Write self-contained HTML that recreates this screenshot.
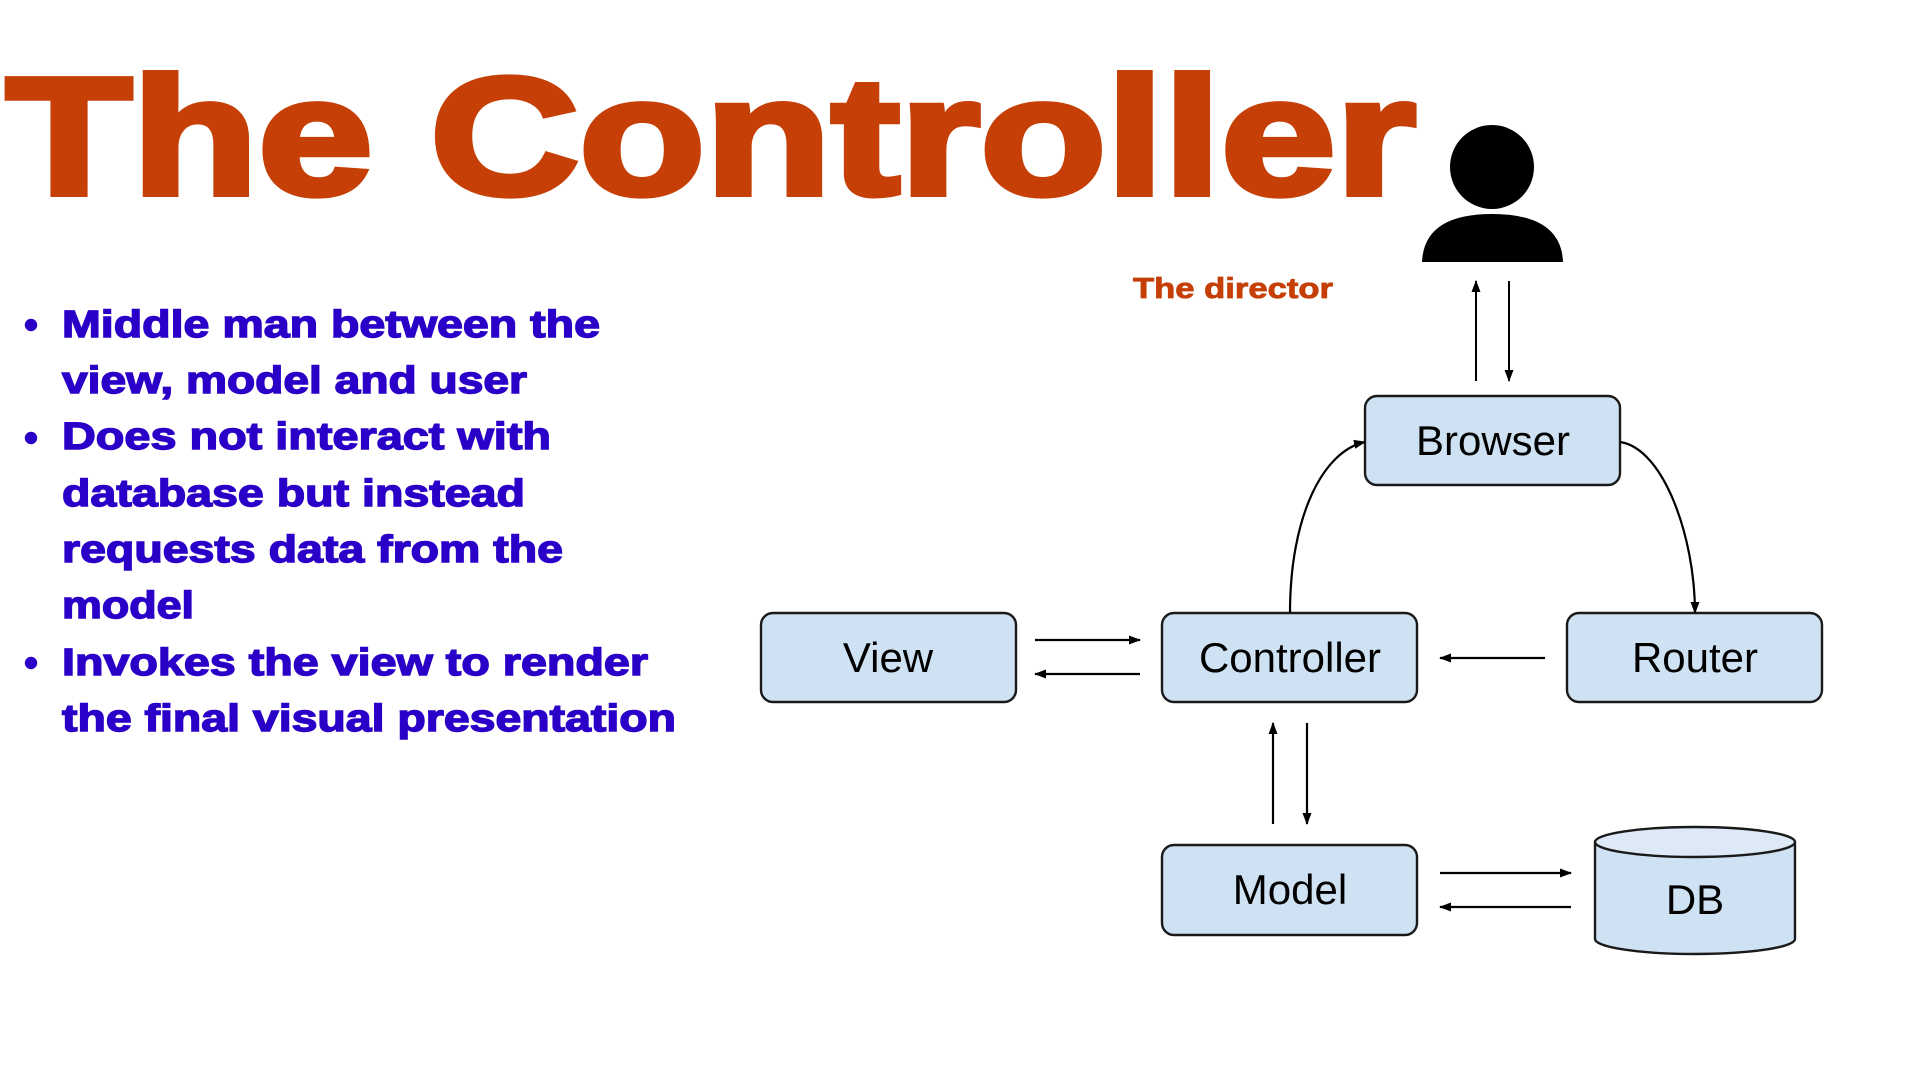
<!DOCTYPE html>
<html><head><meta charset="utf-8"><style>html,body{margin:0;padding:0;background:#fff;width:1920px;height:1080px;overflow:hidden}</style></head>
<body>
<svg width="1920" height="1080" viewBox="0 0 1920 1080" xmlns="http://www.w3.org/2000/svg">
<defs>
<marker id="a" markerWidth="12" markerHeight="12" refX="11" refY="6" orient="auto" markerUnits="userSpaceOnUse"><path d="M0,1.5 L12,6 L0,10.5 z" fill="#000"/></marker>
</defs>
<text x="6" y="194" font-family="Liberation Sans, sans-serif" font-weight="bold" font-size="167" fill="#c53f06" stroke="#c53f06" stroke-width="6" textLength="1410" lengthAdjust="spacingAndGlyphs">The Controller</text>
<circle cx="1492" cy="167" r="42" fill="#000"/>
<path d="M1422,262 Q1424,214 1492,214 Q1561,214 1563,262 Z" fill="#000"/>
<text x="1133" y="298" font-family="Liberation Sans, sans-serif" font-weight="bold" font-size="29" fill="#c53f06" stroke="#c53f06" stroke-width="0.8" textLength="200" lengthAdjust="spacingAndGlyphs">The director</text>
<g font-family="Liberation Sans, sans-serif" font-weight="bold" font-size="38" fill="#2a00c8" stroke="#2a00c8" stroke-width="1.4">
<circle cx="31" cy="325" r="5.5"/><circle cx="31" cy="438" r="5.5"/><circle cx="31" cy="663" r="5.5"/>
<text x="62" y="337" textLength="538" lengthAdjust="spacingAndGlyphs">Middle man between the</text>
<text x="62" y="393" textLength="465" lengthAdjust="spacingAndGlyphs">view, model and user</text>
<text x="62" y="449" textLength="489" lengthAdjust="spacingAndGlyphs">Does not interact with</text>
<text x="62" y="506" textLength="463" lengthAdjust="spacingAndGlyphs">database but instead</text>
<text x="62" y="562" textLength="501" lengthAdjust="spacingAndGlyphs">requests data from the</text>
<text x="62" y="618" textLength="132" lengthAdjust="spacingAndGlyphs">model</text>
<text x="62" y="675" textLength="586" lengthAdjust="spacingAndGlyphs">Invokes the view to render</text>
<text x="62" y="731" textLength="614" lengthAdjust="spacingAndGlyphs">the final visual presentation</text>
</g>
<g stroke="#000" stroke-width="2" fill="none" marker-end="url(#a)">
<line x1="1476" y1="381" x2="1476" y2="281"/>
<line x1="1509" y1="281" x2="1509" y2="381"/>
</g>
<g transform="translate(-7,-4)">
<g fill="#cfe2f3" stroke="#1a1a1a" stroke-width="2.4">
<rect x="1372" y="400" width="255" height="89" rx="12"/>
<rect x="768" y="617" width="255" height="89" rx="12"/>
<rect x="1169" y="617" width="255" height="89" rx="12"/>
<rect x="1574" y="617" width="255" height="89" rx="12"/>
<rect x="1169" y="849" width="255" height="90" rx="12"/>
<path d="M1602,846 L1602,943 A100,15 0 0 0 1802,943 L1802,846"/>
<ellipse cx="1702" cy="846" rx="100" ry="15" fill="#dde9f6"/>
</g>
<g font-family="Liberation Sans, sans-serif" font-size="42" fill="#000" text-anchor="middle">
<text x="1500" y="459">Browser</text>
<text x="895" y="676">View</text>
<text x="1297" y="676">Controller</text>
<text x="1702" y="676">Router</text>
<text x="1297" y="908">Model</text>
<text x="1702" y="918">DB</text>
</g>
<g stroke="#000" stroke-width="2.2" fill="none" marker-end="url(#a)">
<line x1="1042" y1="644" x2="1147" y2="644"/>
<line x1="1147" y1="678" x2="1042" y2="678"/>
<line x1="1552" y1="662" x2="1447" y2="662"/>
<line x1="1280" y1="828" x2="1280" y2="727"/>
<line x1="1314" y1="727" x2="1314" y2="828"/>
<line x1="1447" y1="877" x2="1578" y2="877"/>
<line x1="1578" y1="911" x2="1447" y2="911"/>
<path d="M1297,617 C1297,520 1330,455 1372,446"/>
<path d="M1627,446 C1670,452 1702,540 1702,617"/>
</g>
</g>
</svg>
</body></html>
